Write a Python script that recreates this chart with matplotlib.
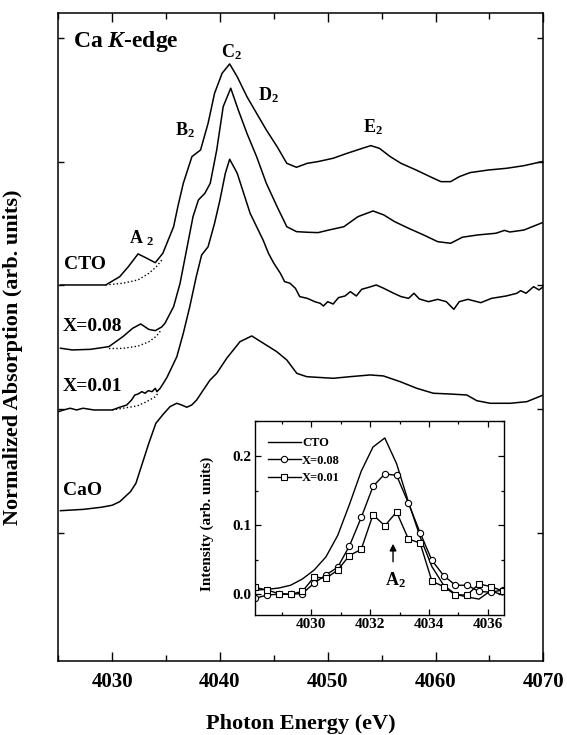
import matplotlib
matplotlib.use("Agg")
import matplotlib.pyplot as plt
from matplotlib.ticker import MultipleLocator

plt.rcParams['font.family'] = ['Liberation Serif', 'DejaVu Serif']
plt.rcParams['font.weight'] = 'bold'
plt.rcParams['mathtext.fontset'] = 'custom'
plt.rcParams['mathtext.rm'] = 'Liberation Serif:bold'
plt.rcParams['mathtext.bf'] = 'Liberation Serif:bold'
plt.rcParams['mathtext.it'] = 'Liberation Serif:bold:italic'
plt.rcParams['mathtext.default'] = 'bf'

# ---- main spectra (energy in eV, normalized absorption with offsets) ----
cto_e = [4025.2, 4027.0, 4029.4, 4030.7, 4031.5, 4032.4, 4033.1, 4034.0, 4034.7,
         4035.7, 4036.1, 4036.6, 4037.4, 4038.2, 4038.9, 4039.5, 4040.2, 4040.9,
         4041.6, 4042.5, 4043.4, 4044.3, 4045.3, 4046.2, 4047.1, 4048.1, 4049.1,
         4050.5, 4051.8, 4053.2, 4054.0, 4054.8, 4055.8, 4056.8, 4058.2, 4059.5,
         4060.5, 4061.4, 4062.2, 4063.2, 4064.9, 4066.6, 4068.2, 4069.9]
cto_y = [3.004, 3.004, 3.004, 3.071, 3.152, 3.255, 3.225, 3.184, 3.260,
         3.475, 3.640, 3.826, 4.041, 4.095, 4.311, 4.553, 4.715, 4.790,
         4.687, 4.526, 4.391, 4.257, 4.122, 3.987, 3.955, 3.987, 4.001,
         4.028, 4.068, 4.108, 4.130, 4.108, 4.041, 3.987, 3.933, 3.879,
         3.839, 3.839, 3.879, 3.912, 3.933, 3.947, 3.968, 4.001]
cto_base_e = [4029.4, 4031.0, 4032.4, 4033.4, 4034.1, 4034.6]
cto_base_y = [3.004, 3.018, 3.045, 3.098, 3.152, 3.206]

x08_e = [4025.2, 4026.3, 4028.0, 4029.7, 4031.0, 4031.9, 4032.65, 4033.4, 4034.0,
         4034.6, 4034.9, 4035.7, 4036.3, 4036.9, 4037.5, 4038.0, 4038.6, 4039.1,
         4039.7, 4040.3, 4041.0, 4041.7, 4042.5, 4043.4, 4044.3, 4045.3, 4046.2,
         4047.1, 4048.1, 4049.1, 4050.1, 4051.5, 4052.8, 4054.2, 4055.2, 4056.2,
         4057.5, 4058.9, 4060.2, 4061.4, 4062.5, 4063.9, 4065.6, 4066.4, 4066.9,
         4068.2, 4069.9]
x08_y = [2.493, 2.479, 2.484, 2.506, 2.587, 2.654, 2.689, 2.645, 2.635,
         2.665, 2.695, 2.829, 3.018, 3.287, 3.556, 3.691, 3.745, 3.826,
         4.095, 4.445, 4.594, 4.418, 4.230, 4.041, 3.826, 3.637, 3.475,
         3.435, 3.430, 3.427, 3.448, 3.475, 3.556, 3.602, 3.570, 3.516,
         3.462, 3.408, 3.354, 3.341, 3.390, 3.408, 3.422, 3.445, 3.432,
         3.448, 3.507]
x08_base_e = [4029.7, 4031.0, 4032.4, 4033.4, 4034.1, 4034.6]
x08_base_y = [2.490, 2.492, 2.510, 2.545, 2.590, 2.645]

x01_e = [4025.0, 4025.5, 4026.1, 4026.7, 4027.3, 4028.3, 4029.2, 4030.0, 4030.7,
         4031.35, 4031.8, 4032.1, 4032.4, 4032.75, 4033.05, 4033.35, 4033.7, 4034.0,
         4034.15, 4034.45, 4034.75, 4035.1, 4036.0, 4036.6, 4037.2, 4037.8, 4038.3,
         4038.9, 4039.5, 4040.0, 4040.5, 4040.9, 4041.6, 4042.2, 4042.8, 4043.4,
         4044.0, 4044.5, 4045.0, 4045.6, 4046.0, 4046.5, 4047.0, 4047.4, 4048.1,
         4048.8, 4049.3, 4049.6, 4050.0, 4050.5, 4051.0, 4051.6, 4052.1, 4052.65,
         4053.15, 4053.8, 4054.5, 4055.2, 4056.0, 4056.8, 4057.5, 4058.0, 4058.5,
         4059.35, 4060.2, 4061.0, 4061.7, 4062.2, 4063.0, 4064.2, 4065.2, 4066.55,
         4067.55, 4067.9, 4068.4, 4069.1, 4069.6, 4070.0]
x01_y = [1.980, 1.994, 2.008, 1.994, 2.008, 1.994, 1.994, 1.994, 2.016,
         2.034, 2.075, 2.115, 2.123, 2.142, 2.129, 2.150, 2.142, 2.169,
         2.142, 2.169, 2.210, 2.260, 2.425, 2.614, 2.829, 3.071, 3.246,
         3.313, 3.503, 3.691, 3.907, 4.020, 3.907, 3.745, 3.583, 3.475,
         3.368, 3.260, 3.179, 3.099, 3.031, 3.018, 2.977, 2.910, 2.896,
         2.869, 2.856, 2.834, 2.869, 2.850, 2.902, 2.915, 2.950, 2.915,
         2.969, 2.985, 3.004, 2.977, 2.942, 2.910, 2.896, 2.937, 2.891,
         2.869, 2.888, 2.869, 2.807, 2.869, 2.888, 2.861, 2.896, 2.915,
         2.937, 2.958, 2.937, 2.990, 2.964, 2.990]
x01_base_e = [4030.0, 4031.0, 4032.3, 4033.2, 4034.0, 4034.3]
x01_base_y = [1.994, 2.008, 2.026, 2.061, 2.101, 2.134]

cao_e = [4025.2, 4027.35, 4029.0, 4030.0, 4030.7, 4031.2, 4031.7, 4032.2, 4032.7,
         4033.4, 4034.05, 4034.74, 4035.37, 4035.99, 4036.45, 4036.92, 4037.38,
         4037.84, 4038.46, 4039.08, 4039.7, 4040.63, 4041.86, 4042.95, 4044.03,
         4045.27, 4046.2, 4047.13, 4048.05, 4048.98, 4050.52, 4052.07, 4053.93,
         4055.16, 4056.71, 4058.26, 4059.8, 4061.35, 4062.9, 4063.83, 4065.07,
         4066.92, 4068.47, 4070.0]
cao_y = [1.180, 1.191, 1.208, 1.224, 1.253, 1.293, 1.334, 1.401, 1.536,
         1.725, 1.886, 1.960, 2.021, 2.048, 2.034, 2.016, 2.034,
         2.075, 2.156, 2.236, 2.290, 2.412, 2.546, 2.592, 2.533,
         2.465, 2.398, 2.290, 2.263, 2.258, 2.250, 2.263, 2.277,
         2.269, 2.223, 2.169, 2.129, 2.123, 2.115, 2.069, 2.048,
         2.048, 2.061, 2.115]

# ---- inset: A2 pre-edge intensity ----
ins_e = [4028.1, 4028.5, 4028.9, 4029.3, 4029.7, 4030.1, 4030.5, 4030.9, 4031.3,
         4031.7, 4032.1, 4032.5, 4032.9, 4033.3, 4033.7, 4034.1, 4034.5, 4034.9,
         4035.3, 4035.7, 4036.1, 4036.5]
ins_cto = [0.006, 0.007, 0.009, 0.013, 0.022, 0.035, 0.054, 0.085, 0.130,
           0.178, 0.213, 0.226, 0.189, 0.134, 0.083, 0.040, 0.013, 0.000,
           -0.004, -0.007, 0.005, -0.001]
ins_x08 = [-0.006, -0.001, 0.000, 0.000, 0.001, 0.016, 0.028, 0.039, 0.070,
           0.111, 0.156, 0.174, 0.172, 0.132, 0.089, 0.049, 0.027, 0.013,
           0.013, 0.004, 0.003, 0.006]
ins_x01 = [0.010, 0.006, 0.001, 0.000, 0.004, 0.025, 0.023, 0.035, 0.056,
           0.065, 0.115, 0.099, 0.119, 0.080, 0.074, 0.019, 0.011, -0.001,
           -0.001, 0.015, 0.011, 0.005]

fig = plt.figure(figsize=(5.67, 7.35), dpi=100)
ax = fig.add_axes([0.1028, 0.1011, 0.8554, 0.8816])

lw = 1.1
ax.plot(cto_e, cto_y, color='black', lw=lw)
ax.plot(cto_base_e, cto_base_y, color='black', lw=1.0, ls=':')
ax.plot(x08_e, x08_y, color='black', lw=lw)
ax.plot(x08_base_e, x08_base_y, color='black', lw=1.0, ls=':')
ax.plot(x01_e, x01_y, color='black', lw=lw)
ax.plot(x01_base_e, x01_base_y, color='black', lw=1.0, ls=':')
ax.plot(cao_e, cao_y, color='black', lw=lw)

ax.set_xlim(4025, 4070)
ax.set_ylim(-0.032, 5.204)
ax.xaxis.set_major_locator(MultipleLocator(10))
ax.xaxis.set_minor_locator(MultipleLocator(5))
ax.set_yticks([1, 2, 3, 4, 5])
ax.set_yticklabels([])
ax.tick_params(axis='x', which='major', direction='in', length=6.5, width=1.0,
               top=True, labelsize=15, pad=8)
ax.tick_params(axis='x', which='minor', direction='in', length=4, width=1.0, top=True)
ax.tick_params(axis='y', which='major', direction='in', length=4, width=1.0, right=True)
for lab in ax.get_xticklabels():
    lab.set_fontweight('bold')
for s in ax.spines.values():
    s.set_linewidth(1.1)

ax.set_xlabel('Photon Energy (eV)', fontsize=16, fontweight='bold', labelpad=16)
ax.set_ylabel('Normalized Absorption (arb. units)', fontsize=16, fontweight='bold')
ax.yaxis.set_label_coords(-0.073, 0.469)

ax.text(4026.34, 4.968, r'Ca $\mathit{K}$-edge', fontsize=17, ha='left', va='center')
ax.text(4041.08, 4.886, 'C$_2$', fontsize=13, ha='center', va='center')
ax.text(4044.49, 4.539, 'D$_2$', fontsize=13, ha='center', va='center')
ax.text(4036.76, 4.257, 'B$_2$', fontsize=13, ha='center', va='center')
ax.text(4054.16, 4.283, 'E$_2$', fontsize=13, ha='center', va='center')
ax.text(4032.71, 3.381, 'A $_2$', fontsize=13, ha='center', va='center')
ax.text(4025.5, 3.166, 'CTO', fontsize=14, ha='left', va='center')
ax.text(4025.4, 2.672, 'X=0.08', fontsize=14, ha='left', va='center')
ax.text(4025.4, 2.182, 'X=0.01', fontsize=14, ha='left', va='center')
ax.text(4025.4, 1.347, 'CaO', fontsize=14, ha='left', va='center')

# inset
axi = fig.add_axes([0.4497, 0.1633, 0.4392, 0.2643])
axi.plot(ins_e, ins_cto, color='black', lw=1.0, label='CTO')
axi.plot(ins_e, ins_x08, color='black', lw=1.0, marker='o', ms=4.5,
         mfc='white', mec='black', mew=0.8, label='X=0.08')
axi.plot(ins_e, ins_x01, color='black', lw=1.0, marker='s', ms=4.5,
         mfc='white', mec='black', mew=0.8, label='X=0.01')
axi.set_xlim(4028.09, 4036.55)
axi.set_ylim(-0.03, 0.251)
axi.xaxis.set_major_locator(MultipleLocator(2))
axi.xaxis.set_minor_locator(MultipleLocator(1))
axi.yaxis.set_major_locator(MultipleLocator(0.1))
axi.yaxis.set_minor_locator(MultipleLocator(0.05))
axi.tick_params(which='major', direction='in', length=4, width=0.9,
                top=True, right=True, labelsize=11, pad=2.5)
axi.tick_params(which='minor', direction='in', length=2.5, width=0.9,
                top=True, right=True)
axi.yaxis.set_major_formatter(matplotlib.ticker.FormatStrFormatter('%.1f'))
for lab in axi.get_xticklabels() + axi.get_yticklabels():
    lab.set_fontweight('bold')
for s in axi.spines.values():
    s.set_linewidth(1.0)
axi.set_ylabel('Intensity (arb. units)', fontsize=11, fontweight='bold')
axi.yaxis.set_label_coords(-0.166, 0.471)
axi.legend(loc='upper left', bbox_to_anchor=(0.053, 0.916), frameon=False,
           fontsize=9, handlelength=2.6, handletextpad=0.1, labelspacing=0.45,
           borderpad=0, borderaxespad=0)
axi.annotate('', xy=(4032.78, 0.077), xytext=(4032.78, 0.043),
             arrowprops=dict(arrowstyle='-|>', color='black', lw=1.0,
                             mutation_scale=10))
axi.text(4032.87, 0.021, 'A$_2$', fontsize=13, ha='center', va='center')

fig.savefig('out.png', dpi=100)
